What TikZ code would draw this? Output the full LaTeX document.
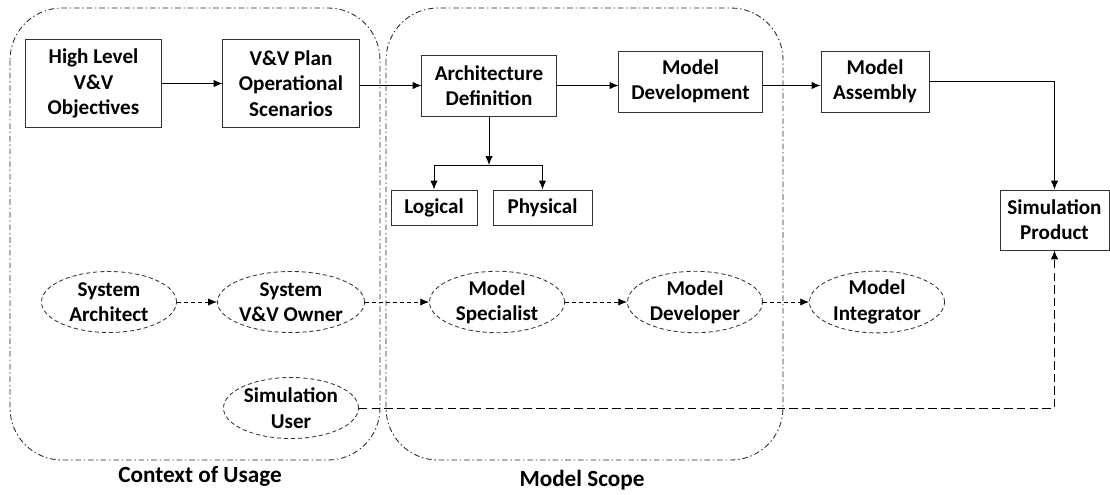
\documentclass[tikz,border=0pt]{standalone}
\usepackage{fontspec}
\setmainfont{Carlito}
\usetikzlibrary{arrows.meta,shapes.geometric}
\begin{document}
\begin{tikzpicture}[x=0.025cm,y=-0.025cm,
    font=\fontsize{15pt}{18pt}\selectfont\bfseries,
    box/.style={draw=black!80,line width=0.7pt,align=center,inner sep=0pt},
    actor/.style={draw=black!80,ellipse,densely dashed,line width=0.6pt,align=center,inner sep=0pt,minimum width=3.375cm,minimum height=1.525cm},
    arr/.style={-{Latex[length=2.2mm,width=1.8mm]},line width=0.6pt},
    flow/.style={-{Latex[length=2.2mm,width=1.8mm]},densely dashed,line width=0.6pt},
    region/.style={draw=black!85,line width=0.6pt,rounded corners=1.3cm,dash pattern=on 4pt off 2pt on 1pt off 2pt}]
    \useasboundingbox (0,0) rectangle (1110,494);
    % scopes
    \draw [region] (10,8) rectangle (380,460);
    \draw [region] (386,8) rectangle (783,460);
    \node (usage) at (200,476) {\fontsize{16.5pt}{20pt}\selectfont Context of Usage};
    \node (scope) at (582,480) {\fontsize{16.5pt}{20pt}\selectfont Model Scope};
    % products
    \node [box,minimum width=3.375cm,minimum height=2.175cm] (objectives) at (93.5,83.5) {High Level\\V\&V\\Objectives};
    \node [box,minimum width=3.4cm,minimum height=2.175cm] (plan) at (291,83.5) {V\&V Plan\\Operational\\Scenarios};
    \node [box,minimum width=3.35cm,minimum height=1.525cm] (archdef) at (489,85.5) {Architecture\\Definition};
    \node [box,minimum width=3.575cm,minimum height=1.525cm] (devel) at (690.5,81.5) {Model\\Development};
    \node [box,minimum width=2.7cm,minimum height=1.525cm] (assembly) at (875,81.5) {Model\\Assembly};
    \node [box,minimum width=2.725cm,minimum height=1.5cm] (product) at (1054.5,220) {Simulation\\Product};
    \node [box,minimum width=2.15cm,minimum height=0.875cm] (logical) at (434,207.5) {Logical};
    \node [box,minimum width=2.475cm,minimum height=0.875cm] (physical) at (542.5,207.5) {Physical};
    \coordinate (split) at (489,165);
    % roles
    \node [actor] (architect) at (109,302) {System\\Architect};
    \node [actor] (owner) at (291,302) {System\\V\&V Owner};
    \node [actor] (user) at (291,408) {Simulation\\User};
    \node [actor] (specialist) at (497,302) {Model\\Specialist};
    \node [actor] (developer) at (695,302) {Model\\Developer};
    \node [actor] (integrator) at (877,302) {Model\\Integrator};
    % product flow
    \draw [arr] (objectives) -- (plan);
    \draw [arr] (plan.east |- archdef) -- (archdef);
    \draw [arr] (archdef.east) -- (archdef.east -| devel.west);
    \draw [arr] (archdef.east -| devel.east) -- (archdef.east -| assembly.west);
    \draw [arr] (assembly.east) -| (product.north);
    \draw [arr] (archdef.south) -- (split);
    \draw [arr] (split) -| (logical.north);
    \draw [arr] (split) -| (physical.north);
    % role flow
    \draw [flow] (architect) -- (owner);
    \draw [flow] (owner) -- (specialist);
    \draw [flow] (specialist) -- (developer);
    \draw [flow] (developer) -- (integrator);
    \draw [-{Latex[length=2.2mm,width=1.8mm]},dash pattern=on 6pt off 3pt,line width=0.6pt] (user) -| (product.south);
\end{tikzpicture}
\end{document}
